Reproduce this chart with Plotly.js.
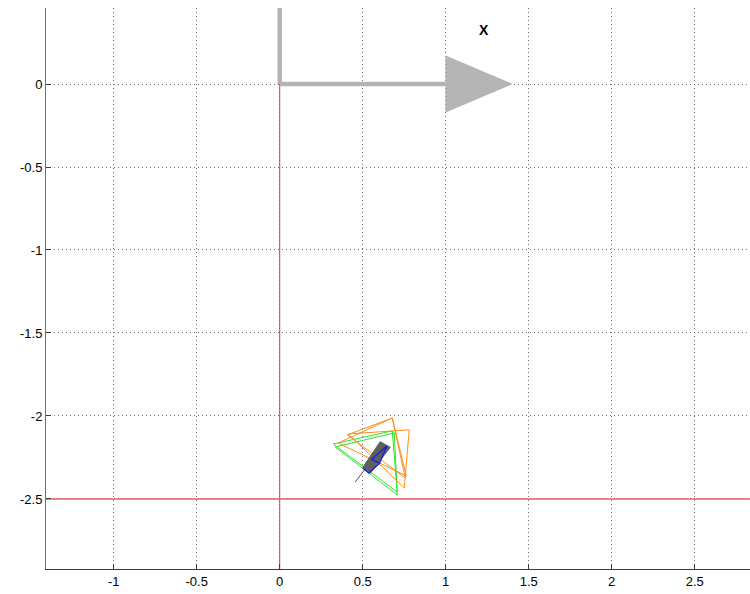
<!DOCTYPE html>
<html>
<head>
<meta charset="utf-8">
<script src="https://cdn.plot.ly/plotly-3.0.1.min.js"></script>
<style>html,body{margin:0;padding:0;background:#fff;}#chart{width:750px;height:594px;}</style>
</head>
<body>
<div id="chart"></div>
<script>
// Axis ticks
var xTicks = [-1, -0.5, 0, 0.5, 1, 1.5, 2, 2.5];
var xTickText = ['-1', '-0.5', '0', '0.5', '1', '1.5', '2', '2.5'];
var yTicks = [-2.5, -2, -1.5, -1, -0.5, 0];
var yTickText = ['-2.5', '-2', '-1.5', '-1', '-0.5', '0'];

// Reference frame arrow (gray)
var frameX = [0, 0, null, 0, 1];
var frameY = [1, 0, null, 0, 0];
var arrowHeadX = [1, 1.4, 1, 1];
var arrowHeadY = [0.17, 0, -0.17, 0.17];
var frameLabel = 'X';
var frameLabelPos = [1.232, 0.325];

// Red boundary lines
var redHX = [-5, 5];
var redHY = [-2.5, -2.5];
var redVX = [0, 0];
var redVY = [-5, 5];

// Green triangles
var greenX = [0.334, 0.690, 0.708, 0.334, null, 0.322, 0.678, 0.708, 0.322];
var greenY = [-2.187, -2.102, -2.476, -2.187, null, -2.169, -2.090, -2.458, -2.169];

// Orange triangles
var orangeX = [0.352, 0.678, 0.762, 0.352, null, 0.414, 0.780, 0.750, 0.414, null, 0.407, 0.678, 0.756, 0.407];
var orangeY = [-2.163, -2.012, -2.361, -2.163, null, -2.108, -2.084, -2.434, -2.108, null, -2.114, -2.012, -2.373, -2.114];

// Robot body (dark gray)
var bodyX = [0.605, 0.666, 0.545, 0.501, 0.605];
var bodyY = [-2.155, -2.189, -2.345, -2.309, -2.155];
var tailX = [0.515, 0.455];
var tailY = [-2.319, -2.398];

// Blue outline
var blueX = [0.646, 0.601, 0.555, 0.646, null, 0.501, 0.537, 0.601];
var blueY = [-2.179, -2.285, -2.261, -2.179, null, -2.313, -2.345, -2.285];

var traces = [
  {x: redVX, y: redVY, mode: 'lines', line: {color: 'rgb(225,60,60)', width: 1}, hoverinfo: 'skip'},
  {x: frameX, y: frameY, mode: 'lines', line: {color: 'rgb(180,180,180)', width: 4.5}, hoverinfo: 'skip'},
  {x: arrowHeadX, y: arrowHeadY, mode: 'lines', fill: 'toself', fillcolor: 'rgb(180,180,180)', line: {color: 'rgb(180,180,180)', width: 0.5}, hoverinfo: 'skip'},
  {x: redHX, y: redHY, mode: 'lines', line: {color: 'rgb(235,95,95)', width: 1.5}, hoverinfo: 'skip'},
  {x: greenX, y: greenY, mode: 'lines', line: {color: 'rgb(40,230,40)', width: 1}, hoverinfo: 'skip'},
  {x: orangeX, y: orangeY, mode: 'lines', line: {color: 'rgb(255,140,30)', width: 1}, hoverinfo: 'skip'},
  {x: bodyX, y: bodyY, mode: 'lines', fill: 'toself', fillcolor: 'rgb(95,95,95)', line: {color: 'rgb(95,95,95)', width: 1}, hoverinfo: 'skip'},
  {x: tailX, y: tailY, mode: 'lines', line: {color: 'rgb(80,80,80)', width: 1}, hoverinfo: 'skip'},
  {x: blueX, y: blueY, mode: 'lines', line: {color: 'rgb(20,30,230)', width: 1.3}, hoverinfo: 'skip'}
];

var layout = {
  width: 750, height: 594,
  margin: {l: 46, r: 0, t: 8, b: 25},
  showlegend: false,
  paper_bgcolor: '#fff', plot_bgcolor: '#fff',
  font: {family: 'Arial, Liberation Sans, sans-serif', size: 13, color: '#000'},
  xaxis: {
    range: [-1.408, 2.833], tickvals: xTicks, ticktext: xTickText,
    showgrid: true, gridcolor: 'rgb(110,110,110)', griddash: '1px,3px', gridwidth: 1,
    zeroline: false, showline: true, linecolor: 'rgb(60,60,60)', linewidth: 1,
    ticks: 'inside', ticklen: 5, tickcolor: 'rgb(60,60,60)',
    tickfont: {size: 13, color: '#000'}, fixedrange: true
  },
  yaxis: {
    range: [-2.922, 0.458], tickvals: yTicks, ticktext: yTickText,
    showgrid: true, gridcolor: 'rgb(110,110,110)', griddash: '1px,3px', gridwidth: 1,
    zeroline: false, showline: true, linecolor: 'rgb(110,110,110)', linewidth: 1,
    ticks: 'inside', ticklen: 5, tickcolor: 'rgb(60,60,60)',
    tickfont: {size: 13, color: '#000'}, fixedrange: true
  },
  annotations: [{
    x: frameLabelPos[0], y: frameLabelPos[1], xref: 'x', yref: 'y',
    text: '<b>' + frameLabel + '</b>', showarrow: false,
    font: {family: 'Arial, Liberation Sans, sans-serif', size: 14, color: '#000'}
  }]
};

Plotly.newPlot('chart', traces, layout, {displayModeBar: false, staticPlot: true});
</script>
</body>
</html>
